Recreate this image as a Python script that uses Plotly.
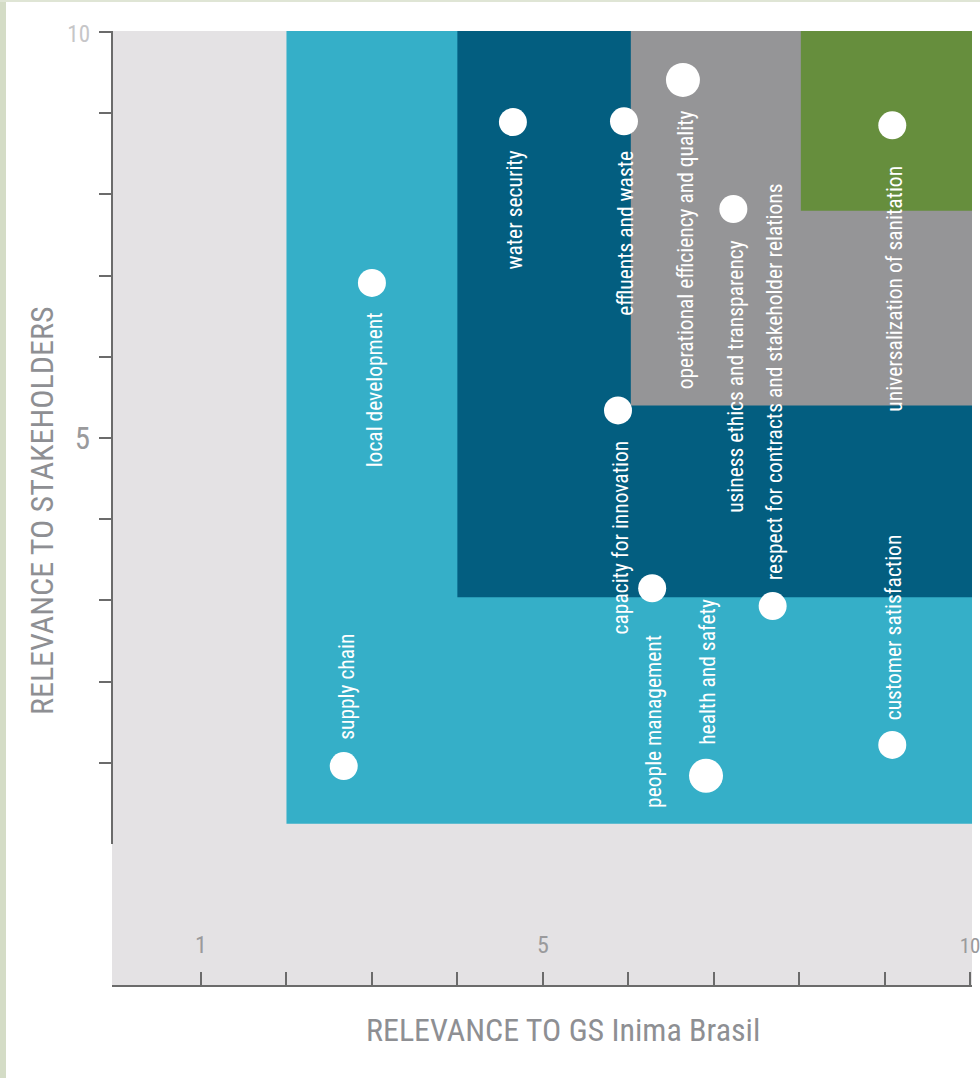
import plotly.graph_objects as go

# ---------------- data ----------------
topics = [
    "supply chain", "local development", "water security", "effluents and waste",
    "operational efficiency and quality", "usiness ethics and transparency",
    "universalization of sanitation", "capacity for innovation", "people management",
    "respect for contracts and stakeholder relations", "health and safety",
    "customer satisfaction",
]
relevance_company = [2.67, 3.00, 4.65, 5.95, 6.64, 7.23, 9.09, 5.88, 6.28, 7.69, 6.91, 9.09]
relevance_stakeholders = [0.96, 6.91, 8.89, 8.90, 9.41, 7.82, 8.85, 5.34, 3.15, 2.93, 0.84, 1.22]
highlighted = [False, False, False, False, True, False, False, False, False, False, True, False]

# materiality zones: lower-left corner thresholds (x, y)
zone_x = [2.0, 4.0, 6.03, 8.02]
zone_y = [0.25, 3.04, 5.4, 7.8]

x_ticks = list(range(1, 11))
x_tick_text = ["1", "", "", "", "5", "", "", "", "", "10"]
y_ticks = list(range(1, 11))
y_tick_text = ["", "", "", "", "5", "", "", "", "", "10"]

x_title = "RELEVANCE TO GS Inima Brasil"
y_title = "RELEVANCE TO STAKEHOLDERS"

# ---------------- style ----------------
zone_colors = ["#35afc8", "#035e80", "#959597", "#668e3d"]
bg_gray = "#e4e2e4"
axis_col = "#6b6b6b"
title_col = "#8e8f93"
FONT = "Roboto Condensed, Liberation Sans Narrow, DejaVu Sans Condensed, Arial Narrow, sans-serif"
XR = [-0.042, 10.023]
YR = [-1.736, 10.012]
# label placement: side (+1 above point, -1 below) and pixel gap from point centre
label_side = [1, -1, -1, -1, -1, -1, -1, -1, -1, 1, 1, 1]
label_gap = [24, 27, 26, 27, 28, 29, 38, 28, 45, 24, 29, 23]
# per-tick label styling (the "10" labels are smaller)
y_tick_style = {"5": "font-size:31px;color:#9a9a9c", "10": "font-size:23px;color:#c6c6c8"}
x_tick_style = {"1": "font-size:24px", "5": "font-size:24px", "10": "font-size:21px"}

fig = go.Figure()

shapes = [
    dict(type="rect", xref="paper", yref="paper", x0=0, x1=1, y0=0, y1=1,
         fillcolor=bg_gray, line=dict(width=0), layer="below"),
]
for zx, zy, c in zip(zone_x, zone_y, zone_colors):
    shapes.append(dict(type="rect", xref="x", yref="y", x0=zx, x1=XR[1], y0=zy, y1=YR[1],
                       fillcolor=c, line=dict(width=0), layer="below"))
# y axis line from 0 upward
shapes.append(dict(type="line", xref="paper", yref="y", x0=0, x1=0, y0=0, y1=YR[1],
                   line=dict(color=axis_col, width=2)))
# left decorative strip + top hairline
shapes.append(dict(type="rect", xref="paper", yref="paper", x0=-112/860, x1=-106/860,
                   y0=-93/954, y1=1 + 31/954, fillcolor="#d4dcc6", line=dict(width=0)))
shapes.append(dict(type="rect", xref="paper", yref="paper", x0=-112/860, x1=1+8/860,
                   y0=1+29/954, y1=1+31/954, fillcolor="#dfe5d5", line=dict(width=0)))

fig.add_trace(go.Scatter(
    x=relevance_company, y=relevance_stakeholders, mode="markers",
    marker=dict(color="white", opacity=1, size=[34 if h else 28 for h in highlighted],
                line=dict(width=0)),
    hoverinfo="text", text=topics, showlegend=False, cliponaxis=False,
))

annotations = []
for t, x, y, s, g in zip(topics, relevance_company, relevance_stakeholders, label_side, label_gap):
    annotations.append(dict(
        x=x, y=y, xref="x", yref="y", text=t, showarrow=False, textangle=-90,
        xanchor="center", yanchor="bottom" if s > 0 else "top",
        yshift=s * g, xshift=2,
        font=dict(family=FONT, size=21.5, color="white"),
    ))
annotations.append(dict(text=x_title, xref="paper", yref="paper", x=(563 - 112) / 860, y=-45 / 954,
                        xanchor="center", yanchor="middle", showarrow=False,
                        font=dict(family=FONT, size=32, color=title_col)))
annotations.append(dict(text=y_title, xref="paper", yref="paper", x=-70 / 860, y=0.5 - 3 / 954,
                        xanchor="center", yanchor="middle", showarrow=False, textangle=-90,
                        font=dict(family=FONT, size=32, color=title_col)))

y_tick_html = [f'<span style="{y_tick_style[t]}">{t}</span>' if t else "" for t in y_tick_text]
x_tick_html = [f'<span style="{x_tick_style[t]}">{t}</span>' if t else "" for t in x_tick_text]

fig.update_layout(
    width=980, height=1078,
    margin=dict(l=112, r=8, t=31, b=93, autoexpand=False),
    paper_bgcolor="white", plot_bgcolor=bg_gray,
    shapes=shapes, annotations=annotations,
    xaxis=dict(range=XR, tickvals=x_ticks, ticktext=x_tick_html, ticks="inside", ticklen=13,
               tickwidth=2, tickcolor=axis_col, showline=True, linecolor=axis_col, linewidth=2,
               showgrid=False, zeroline=False, ticklabelposition="inside", ticklabelstandoff=16,
               ticklabeloverflow="allow", automargin=False,
               tickfont=dict(family=FONT, size=24, color="#9a9a9c"), fixedrange=True),
    yaxis=dict(range=YR, tickvals=y_ticks, ticktext=y_tick_html, ticks="outside", ticklen=12,
               tickwidth=2, tickcolor=axis_col, showline=False, showgrid=False, zeroline=False,
               ticklabelstandoff=3, automargin=False,
               tickfont=dict(family=FONT, size=30, color="#9a9a9c"), fixedrange=True),
)

fig.write_html("out.html")
